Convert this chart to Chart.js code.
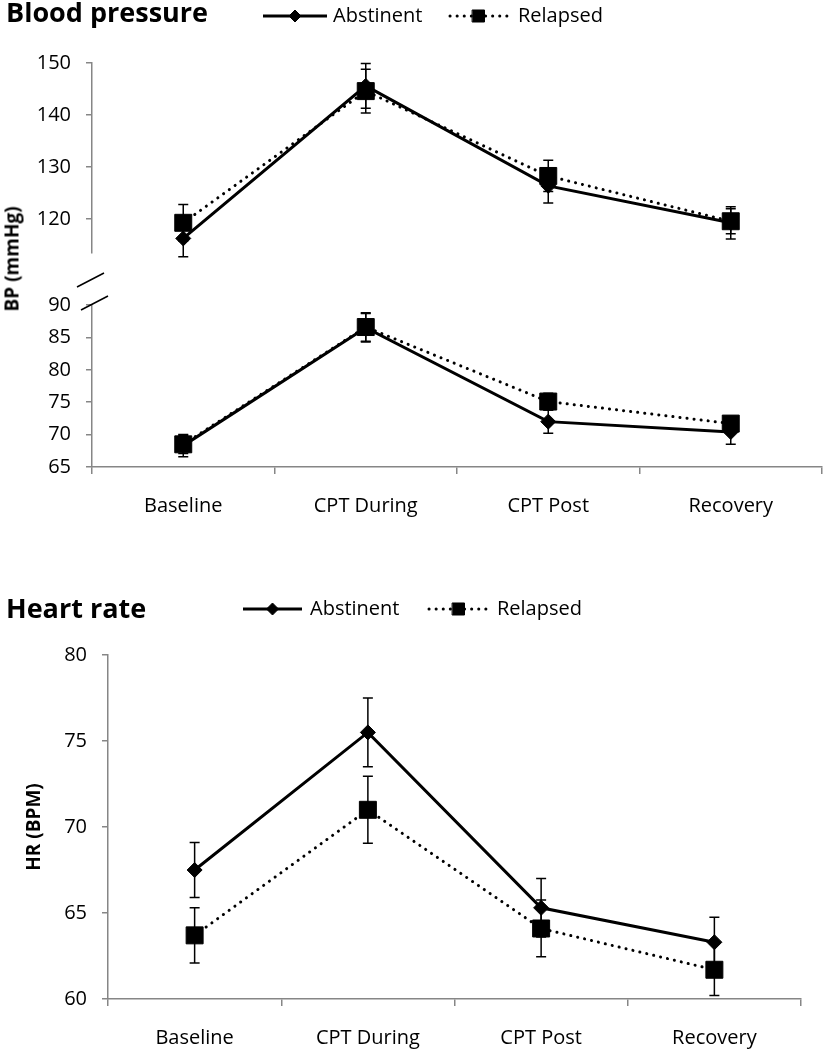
<!DOCTYPE html>
<html>
<head>
<meta charset="utf-8">
<title>Blood pressure and heart rate</title>
<script src="https://cdn.jsdelivr.net/npm/chart.js@4.4.1/dist/chart.umd.min.js"></script>
<style>
    html, body { margin: 0; padding: 0; background: #fff; }
    #page { position: relative; width: 835px; height: 1050px; overflow: hidden; font-family: 'Open Sans', sans-serif; color: #000; }
    #page canvas { position: absolute; left: 0; }
    .panel-title { position: absolute; left: 6px; font-weight: 700; font-size: 27px; line-height: 27px; white-space: nowrap; }
    .axis-title { position: absolute; font-weight: 700; font-size: 19px; line-height: 19px; white-space: nowrap; transform: translate(-50%, -50%) rotate(-90deg); }
</style>
</head>
<body>
<div id="page">
    <canvas id="sysChart" width="835" height="280" style="top:0"></canvas>
    <canvas id="diaChart" width="835" height="260" style="top:265px"></canvas>
    <canvas id="hrChart" width="835" height="470" style="top:580px"></canvas>
    <div class="panel-title" style="top:-2px">Blood pressure</div>
    <div class="panel-title" style="top:594px">Heart rate</div>
    <div class="axis-title" style="left:12px; top:259px">BP (mmHg)</div>
</div>
<script>
// categories and series
const categories = ['Baseline', 'CPT During', 'CPT Post', 'Recovery'];
const seriesNames = ['Abstinent', 'Relapsed'];

// blood pressure, upper (systolic) part
const sysAbstinent = [116.3, 145.6, 126.4, 119.3];
const sysAbstinentErr = [3.5, 4.3, 3.3, 3.1];
const sysRelapsed = [119.3, 144.6, 128.3, 119.6];
const sysRelapsedErr = [3.5, 4.2, 3.0, 2.4];
const sysTicks = [120, 130, 140, 150];

// blood pressure, lower (diastolic) part
const diaAbstinent = [68.3, 86.5, 72.0, 70.4];
const diaAbstinentErr = [1.7, 2.2, 1.8, 1.9];
const diaRelapsed = [68.5, 86.6, 75.1, 71.7];
const diaRelapsedErr = [1.4, 2.2, 1.3, 1.1];
const diaTicks = [65, 70, 75, 80, 85, 90];

// heart rate
const hrAbstinent = [67.5, 75.5, 65.3, 63.3];
const hrAbstinentErr = [1.6, 2.0, 1.7, 1.45];
const hrRelapsed = [63.7, 71.0, 64.1, 61.7];
const hrRelapsedErr = [1.6, 1.95, 1.65, 1.5];
const hrTicks = [60, 65, 70, 75, 80];

const FONT = "'Open Sans', sans-serif";
const AXIS_GREY = '#868686';

// vertical error bars with caps, drawn from dataset.errors
const errorBars = {
    id: 'errorBars',
    afterDatasetsDraw(chart) {
        const ctx = chart.ctx;
        const yScale = chart.scales.y;
        chart.data.datasets.forEach((ds, i) => {
            const meta = chart.getDatasetMeta(i);
            ctx.save();
            ctx.strokeStyle = '#000';
            ctx.lineWidth = 1.5;
            meta.data.forEach((pt, j) => {
                const top = yScale.getPixelForValue(ds.data[j] + ds.errors[j]);
                const bot = yScale.getPixelForValue(ds.data[j] - ds.errors[j]);
                ctx.beginPath();
                ctx.moveTo(pt.x, top);
                ctx.lineTo(pt.x, bot);
                ctx.moveTo(pt.x - 5, top);
                ctx.lineTo(pt.x + 5, top);
                ctx.moveTo(pt.x - 5, bot);
                ctx.lineTo(pt.x + 5, bot);
                ctx.stroke();
            });
            ctx.restore();
        });
    }
};

// line + marker legend entries, styled from the datasets
const seriesKey = {
    id: 'seriesKey',
    afterDraw(chart, args, opts) {
        if (!opts.items) return;
        const ctx = chart.ctx;
        opts.items.forEach((item, i) => {
            const ds = chart.data.datasets[i];
            ctx.save();
            ctx.strokeStyle = ds.borderColor;
            ctx.lineWidth = ds.borderWidth;
            ctx.lineCap = ds.borderCapStyle || 'butt';
            ctx.setLineDash(ds.borderDash || []);
            ctx.beginPath();
            ctx.moveTo(item.x0, opts.y);
            ctx.lineTo(item.x1, opts.y);
            ctx.stroke();
            ctx.setLineDash([]);
            ctx.lineWidth = 1;
            ctx.fillStyle = ds.pointBackgroundColor;
            Chart.helpers.drawPoint(ctx, { pointStyle: ds.pointStyle, radius: item.r, rotation: 0, borderWidth: 1 },
                (item.x0 + item.x1) / 2, opts.y);
            ctx.fillStyle = '#000';
            ctx.font = '20px ' + FONT;
            ctx.textBaseline = 'middle';
            ctx.textAlign = 'left';
            ctx.fillText(ds.label, item.tx, opts.y);
            ctx.restore();
        });
    }
};

// the two slashes marking the broken BP axis
const axisBreak = {
    id: 'axisBreak',
    afterDraw(chart, args, opts) {
        if (!opts.show) return;
        const ctx = chart.ctx;
        const x = chart.chartArea.left;
        const y = chart.chartArea.top;
        ctx.save();
        ctx.strokeStyle = '#000';
        ctx.lineWidth = 1.5;
        ctx.beginPath();
        ctx.moveTo(x - 15, y - 18);
        ctx.lineTo(x + 12, y - 32);
        ctx.moveTo(x - 11, y + 5);
        ctx.lineTo(x + 16, y - 9);
        ctx.stroke();
        ctx.restore();
    }
};

function makeSeries(absVals, absErr, relVals, relErr) {
    return [
        {
            label: seriesNames[0], data: absVals, errors: absErr, order: 1,
            borderColor: '#000', borderWidth: 3, tension: 0,
            pointStyle: 'rectRot', pointRadius: 7.5, pointBackgroundColor: '#000', pointBorderColor: '#000', pointBorderWidth: 1
        },
        {
            label: seriesNames[1], data: relVals, errors: relErr, order: 0,
            borderColor: '#000', borderWidth: 3, borderDash: [0.1, 7], borderCapStyle: 'round', tension: 0,
            pointStyle: 'rect', pointRadius: 12, pointBackgroundColor: '#000', pointBorderColor: '#000', pointBorderWidth: 1
        }
    ];
}

function yAxis(min, max, tickList, width, title) {
    return {
        min: min,
        max: max,
        afterBuildTicks: function (scale) {
            scale.ticks = tickList.map(v => ({ value: v }));
        },
        afterFit: function (scale) {
            scale.width = width;
        },
        border: { color: AXIS_GREY, width: 1.5 },
        grid: { drawOnChartArea: false, drawTicks: true, tickLength: 6, color: AXIS_GREY, lineWidth: 1.5 },
        ticks: { color: '#000', font: { family: FONT, size: 20 }, padding: 15 },
        title: title ? {
            display: true, text: title, color: '#000',
            font: { family: FONT, size: 19, weight: 'bold' },
            padding: { top: 23, bottom: 0 }
        } : { display: false }
    };
}

function xAxis(show, height) {
    return {
        display: show,
        offset: true,
        afterFit: function (scale) {
            scale.height = height;
        },
        border: { color: AXIS_GREY, width: 1.5 },
        grid: { offset: true, drawOnChartArea: false, drawTicks: true, tickLength: 7, color: AXIS_GREY, lineWidth: 1.5 },
        ticks: { color: '#000', font: { family: FONT, size: 20 }, padding: 20, maxRotation: 0, autoSkip: false }
    };
}

function makeChart(id, datasets, scales, padding, plugins) {
    return new Chart(document.getElementById(id).getContext('2d'), {
        type: 'line',
        data: { labels: categories, datasets: datasets },
        options: {
            responsive: false,
            animation: false,
            devicePixelRatio: 1,
            layout: { padding: padding },
            scales: scales,
            plugins: Object.assign({
                legend: { display: false },
                tooltip: { enabled: false }
            }, plugins)
        },
        plugins: [errorBars, seriesKey, axisBreak]
    });
}

// Blood pressure - systolic part (legend lives here)
makeChart('sysChart',
    makeSeries(sysAbstinent, sysAbstinentErr, sysRelapsed, sysRelapsedErr),
    { x: xAxis(false, 0), y: yAxis(113.5, 150, sysTicks, 92) },
    { top: 63, right: 2, bottom: 8, left: 0 },
    {
        seriesKey: {
            y: 16,
            items: [{ x0: 263, x1: 327, r: 6, tx: 333 }, { x0: 450, x1: 507, r: 8.5, tx: 518 }]
        }
    });

// Blood pressure - diastolic part
makeChart('diaChart',
    makeSeries(diaAbstinent, diaAbstinentErr, diaRelapsed, diaRelapsedErr),
    { x: xAxis(true, 58), y: yAxis(65, 90, diaTicks, 92) },
    { top: 40, right: 2, bottom: 0, left: 0 },
    { axisBreak: { show: true } });

// Heart rate
makeChart('hrChart',
    makeSeries(hrAbstinent, hrAbstinentErr, hrRelapsed, hrRelapsedErr),
    { x: xAxis(true, 51), y: yAxis(60, 80, hrTicks, 108, 'HR (BPM)') },
    { top: 75, right: 34, bottom: 0, left: 0 },
    {
        seriesKey: {
            y: 29,
            items: [{ x0: 243, x1: 302, r: 6, tx: 310 }, { x0: 429, x1: 488, r: 8.5, tx: 497 }]
        }
    });
</script>
</body>
</html>
